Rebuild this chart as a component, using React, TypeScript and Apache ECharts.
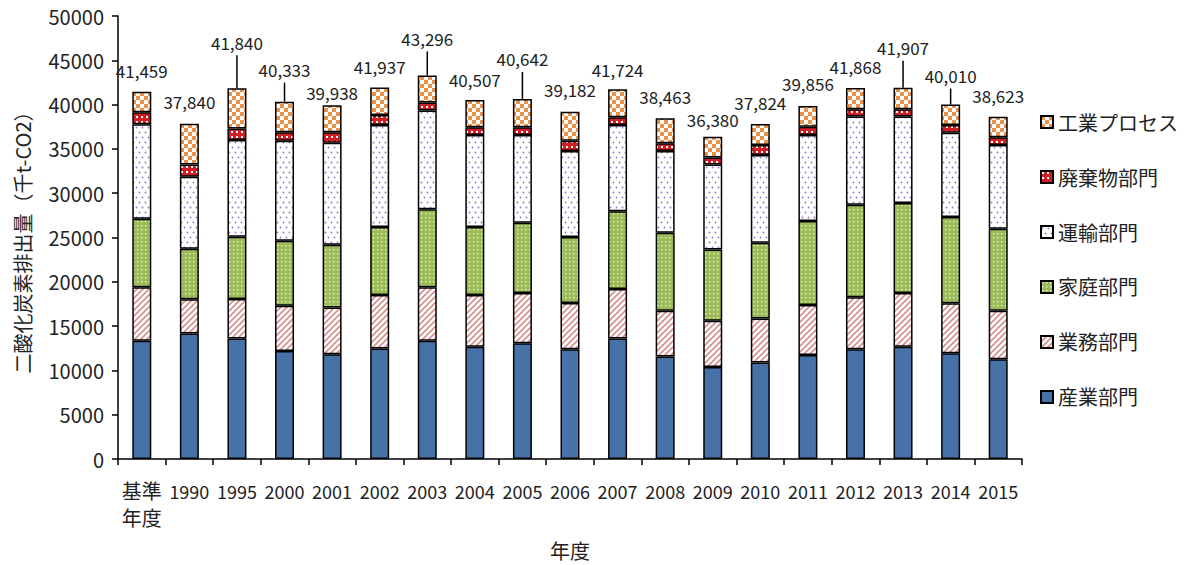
import React, { useEffect, useRef } from "react";
import * as echarts from "echarts";

const categories = ["基準\n年度", "1990", "1995", "2000", "2001", "2002", "2003", "2004", "2005", "2006", "2007", "2008", "2009", "2010", "2011", "2012", "2013", "2014", "2015"];
const industry = [13340, 14170, 13600, 12200, 11820, 12470, 13340, 12660, 13070, 12390, 13600, 11560, 10390, 10880, 11750, 12390, 12660, 11940, 11260];
const business = [6040, 3850, 4460, 5100, 5290, 6040, 6040, 5850, 5670, 5210, 5590, 5180, 5210, 4990, 5630, 5860, 6080, 5630, 5480];
const household = [7740, 5700, 7020, 7330, 7070, 7670, 8800, 7670, 7930, 7450, 8770, 8800, 8050, 8530, 9480, 10460, 10160, 9740, 9250];
const transport = [10660, 8130, 10920, 11300, 11520, 11520, 11150, 10390, 9900, 9710, 9740, 9220, 9600, 9900, 9710, 9940, 9750, 9520, 9450];
const waste = [1360, 1400, 1290, 940, 1170, 1140, 900, 870, 870, 1170, 870, 870, 790, 1140, 940, 830, 830, 870, 870];
const processEm = [2319, 4590, 4550, 3463, 3068, 3097, 3066, 3067, 3202, 3252, 3154, 2833, 2340, 2384, 2346, 2388, 2427, 2310, 2313];
const totals = [41459, 37840, 41840, 40333, 39938, 41937, 43296, 40507, 40642, 39182, 41724, 38463, 36380, 37824, 39856, 41868, 41907, 40010, 38623];
const seriesNames = ["産業部門", "業務部門", "家庭部門", "運輸部門", "廃棄物部門", "工業プロセス"];

// label placement (pixels above bar top) and callout flags
const labelDy = [-21, -22, -46, -32, -13, -21, -37, -21, -40, -22, -20, -22, -17, -21, -22, -22, -40, -29, -21];
const leader = [0, 0, 1, 1, 0, 0, 1, 0, 1, 0, 0, 0, 0, 0, 0, 0, 1, 1, 0];

const FONT = '"Noto Sans CJK JP", "Noto Sans", sans-serif';

function tile(w: number, h: number, draw: (c: CanvasRenderingContext2D) => void) {
  const cv = document.createElement("canvas");
  cv.width = w;
  cv.height = h;
  const c = cv.getContext("2d")!;
  draw(c);
  return { image: cv, repeat: "repeat" as const };
}

export default function App() {
  const ref = useRef<HTMLDivElement>(null);
  useEffect(() => {
    document.body.style.margin = "0";
    const chart = echarts.init(ref.current!, null, { renderer: "svg" });

    const blue = "#4672A8";
    const stripes = tile(6, 6, (c) => {
      c.fillStyle = "#fff";
      c.fillRect(0, 0, 6, 6);
      c.strokeStyle = "#D58E8C";
      c.lineWidth = 1.6;
      c.beginPath();
      c.moveTo(-3, 3); c.lineTo(3, -3);
      c.moveTo(0, 6); c.lineTo(6, 0);
      c.moveTo(3, 9); c.lineTo(9, 3);
      c.stroke();
    });
    const green = tile(4, 4, (c) => {
      c.fillStyle = "#9BBB59";
      c.fillRect(0, 0, 4, 4);
      c.fillStyle = "#E8F0D8";
      c.fillRect(1, 1, 1.4, 1.4);
    });
    const purple = tile(6, 10, (c) => {
      c.fillStyle = "#fff";
      c.fillRect(0, 0, 6, 10);
      c.fillStyle = "#8E7CC3";
      c.beginPath();
      c.arc(1.5, 2.5, 0.9, 0, Math.PI * 2);
      c.arc(4.5, 7.5, 0.9, 0, Math.PI * 2);
      c.fill();
    });
    const red = tile(5, 5, (c) => {
      c.fillStyle = "#D01F25";
      c.fillRect(0, 0, 5, 5);
      c.fillStyle = "#fff";
      c.fillRect(1, 1, 2, 2);
    });
    const orange = tile(8, 8, (c) => {
      c.fillStyle = "#fff";
      c.fillRect(0, 0, 8, 8);
      c.fillStyle = "#E8924A";
      c.fillRect(0, 0, 4, 4);
      c.fillRect(4, 4, 4, 4);
    });
    const fills: any[] = [blue, stripes, green, purple, red, orange];
    const dataSets = [industry, business, household, transport, waste, processEm];

    const barSeries = dataSets.map((d, k) => ({
      name: seriesNames[k],
      type: "bar",
      stack: "total",
      barWidth: 19,
      data: d,
      itemStyle: { color: fills[k], borderColor: "#000", borderWidth: 1.5 },
      emphasis: { disabled: true },
    }));

    const totalSeries = {
      name: "合計",
      type: "custom",
      data: totals.map((t, i) => [i, t]),
      z: 5,
      renderItem: (params: any, api: any) => {
        const i = api.value(0);
        const v = api.value(1);
        const p = api.coord([i, v]);
        const ty = p[1] + labelDy[i];
        const children: any[] = [
          {
            type: "text",
            x: p[0],
            y: ty,
            style: {
              text: Number(v).toLocaleString("en-US"),
              align: "center",
              verticalAlign: "middle",
              fontSize: 17,
              fontFamily: FONT,
              fill: "#222",
            },
          },
        ];
        if (leader[i]) {
          children.push({
            type: "line",
            shape: { x1: p[0], y1: ty + 13, x2: p[0], y2: p[1] },
            style: { stroke: "#000", lineWidth: 1.5 },
          });
        }
        return { type: "group", children };
      },
    };

    chart.setOption({
      animation: false,
      textStyle: { fontFamily: FONT },
      grid: { left: 118, top: 16, width: 904, height: 443, containLabel: false, outerBoundsMode: "none" },
      legend: {
        orient: "vertical",
        left: 1035,
        top: 107,
        itemWidth: 12,
        itemHeight: 12,
        itemGap: 35,
        data: [...seriesNames].reverse(),
        textStyle: { fontSize: 20, fontFamily: FONT, color: "#222" },
        icon: "rect",
        selectedMode: false,
      },
      xAxis: {
        type: "category",
        data: categories,
        name: "年度",
        nameLocation: "middle",
        nameGap: 81,
        nameTextStyle: { fontSize: 20, color: "#222", fontFamily: FONT },
        axisLine: { lineStyle: { color: "#000", width: 1.5 } },
        axisTick: { show: true, length: 6, lineStyle: { color: "#000", width: 1.5 } },
        axisLabel: {
          interval: 0,
          fontSize: 18,
          color: "#222",
          margin: 18,
          lineHeight: 27,
          fontFamily: FONT,
          formatter: (v: string) => (/^\d+$/.test(v) ? v : v.split("\n").map((s) => "{c|" + s + "}").join("\n")),
          rich: { c: { fontSize: 20, lineHeight: 27, color: "#222", fontFamily: FONT } },
        },
      },
      yAxis: {
        type: "value",
        min: 0,
        max: 50000,
        interval: 5000,
        name: "二酸化炭素排出量（千t-CO2）",
        nameLocation: "middle",
        nameGap: 86,
        nameTextStyle: { fontSize: 20, color: "#222", fontFamily: FONT },
        axisLine: { show: true, lineStyle: { color: "#000", width: 1.5 } },
        axisTick: { show: true, length: 6, lineStyle: { color: "#000", width: 1.5 } },
        splitLine: { show: false },
        axisLabel: { fontSize: 20, color: "#222", margin: 14, fontFamily: FONT, formatter: (v: number) => String(v) },
      },
      series: [...barSeries, totalSeries],
    });
    return () => chart.dispose();
  }, []);
  return <div ref={ref} style={{ width: 1189, height: 565 }} />;
}
